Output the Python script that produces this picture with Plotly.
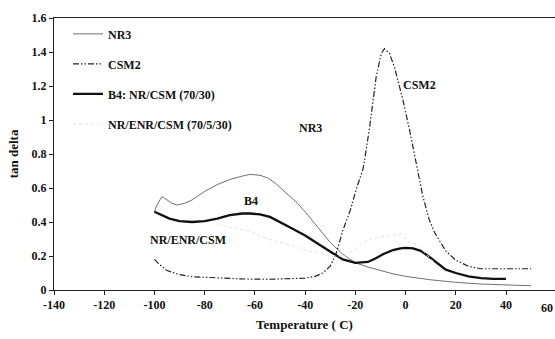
import plotly.graph_objects as go

# ---- data ----
nr3_T = [-100, -99, -97, -95, -93, -91, -88, -85, -80, -75, -70, -65, -62, -58, -55, -52, -49, -46, -43, -40, -35, -30, -25, -20, -15, -10, -5, 0, 5, 10, 20, 30, 40, 50]
nr3_y = [0.46, 0.50, 0.55, 0.53, 0.51, 0.50, 0.51, 0.53, 0.58, 0.62, 0.65, 0.67, 0.68, 0.675, 0.66, 0.63, 0.59, 0.55, 0.51, 0.46, 0.37, 0.28, 0.21, 0.16, 0.135, 0.115, 0.095, 0.08, 0.07, 0.06, 0.045, 0.035, 0.03, 0.025]

csm2_T = [-100, -98, -95, -90, -85, -75, -65, -55, -45, -40, -36, -33, -30, -27.5, -25, -22, -19.7, -17, -16.3, -14.3, -11.7, -9.7, -8.4, -6.4, -4.4, -1.1, 1.6, 4.2, 6.9, 9.5, 11.5, 13.5, 16, 20, 25, 30, 40, 50]
csm2_y = [0.18, 0.15, 0.115, 0.09, 0.078, 0.07, 0.065, 0.063, 0.065, 0.07, 0.08, 0.10, 0.14, 0.22, 0.35, 0.47, 0.59, 0.71, 0.765, 0.96, 1.255, 1.39, 1.42, 1.39, 1.31, 1.12, 0.94, 0.75, 0.55, 0.41, 0.34, 0.29, 0.23, 0.175, 0.14, 0.125, 0.125, 0.125]

b4_T = [-100, -97, -94, -90, -85, -80, -75, -70, -65, -62, -58, -54, -50, -45, -40, -35, -31, -25, -20, -15, -12, -9, -5, -2, 0, 3, 6, 9, 12, 16, 20, 25, 30, 35, 40]
b4_y = [0.46, 0.44, 0.42, 0.405, 0.40, 0.405, 0.42, 0.44, 0.45, 0.45, 0.445, 0.43, 0.40, 0.36, 0.32, 0.27, 0.235, 0.18, 0.16, 0.165, 0.185, 0.21, 0.235, 0.245, 0.248, 0.245, 0.23, 0.20, 0.165, 0.12, 0.10, 0.08, 0.07, 0.065, 0.065]

enr_T = [-75, -70, -65, -60, -55, -50, -45, -40, -35, -30, -25, -20, -17, -12, -6, -2, 1, 5, 9, 14, 18]
enr_y = [0.39, 0.37, 0.355, 0.335, 0.30, 0.28, 0.26, 0.235, 0.22, 0.20, 0.20, 0.24, 0.28, 0.31, 0.32, 0.33, 0.29, 0.26, 0.20, 0.12, 0.10]

x_ticks = [-140, -120, -100, -80, -60, -40, -20, 0, 20, 40]
x_tick_text = ["-140", "-120", "-100", "-80", "-60", "-40", "-20", "0", "20", "40"]
y_ticks = [0, 0.2, 0.4, 0.6, 0.8, 1, 1.2, 1.4, 1.6]
y_tick_text = ["0", "0.2", "0.4", "0.6", "0.8", "1", "1.2", "1.4", "1.6"]

FONT = "Liberation Serif"
INK = "#111111"

fig = go.Figure()
fig.add_trace(go.Scatter(x=nr3_T, y=nr3_y, mode="lines", name="<b>NR3</b>",
                         line=dict(color="#707070", width=1), legendgroup="a"))
fig.add_trace(go.Scatter(x=csm2_T, y=csm2_y, mode="lines", name="<b>CSM2</b>",
                         line=dict(color="#222222", width=1.2, dash="6px,2px,1.5px,2px,1.5px,2px"), legendgroup="b"))
fig.add_trace(go.Scatter(x=b4_T, y=b4_y, mode="lines", name="<b>B4: NR/CSM (70/30)</b>",
                         line=dict(color=INK, width=2.3), legendgroup="c"))
fig.add_trace(go.Scatter(x=enr_T, y=enr_y, mode="lines", name="<b>NR/ENR/CSM (70/5/30)</b>",
                         line=dict(color="#e2e2e2", width=1, dash="dot"), legendgroup="d"))

ann_font = dict(family=FONT, size=12, color=INK)
annotations = [
    dict(x=-37.8, y=0.953, text="<b>NR3</b>", showarrow=False, xref="x", yref="y", font=ann_font),
    dict(x=-1.8, y=1.206, text="<b>CSM2</b>", showarrow=False, xref="x", yref="y", font=ann_font, xanchor="left"),
    dict(x=-61.4, y=0.525, text="<b>B4</b>", showarrow=False, xref="x", yref="y", font=ann_font),
    dict(x=-86.6, y=0.294, text="<b>NR/ENR/CSM</b>", showarrow=False, xref="x", yref="y", font=ann_font),
    dict(x=1.0, y=0, text="<b>60</b>", showarrow=False, xref="paper", yref="paper",
         xanchor="right", yanchor="top", yshift=-9, font=ann_font),
]

fig.update_layout(
    width=555, height=339,
    margin=dict(l=54, r=0, t=18, b=49),
    paper_bgcolor="white", plot_bgcolor="white",
    font=dict(family=FONT, size=12, color=INK),
    showlegend=True,
    legend=dict(x=0.028, y=0.995, xanchor="left", yanchor="top", bgcolor="rgba(0,0,0,0)",
                font=dict(family=FONT, size=12, color=INK), tracegroupgap=11,
                itemwidth=30),
    annotations=annotations,
    xaxis=dict(range=[-140, 59.5], tickvals=x_ticks, ticktext=["<b>%s</b>" % t for t in x_tick_text],
               showgrid=False, zeroline=False,
               showline=True, linecolor="#222222", linewidth=1, mirror=True,
               ticks="outside", ticklen=4, tickcolor="#222222",
               tickfont=dict(family=FONT, size=12, color=INK),
               title=dict(text="<b>Temperature ( C)</b>", font=dict(family=FONT, size=13, color=INK), standoff=8)),
    yaxis=dict(range=[0, 1.6], tickvals=y_ticks, ticktext=["<b>%s</b>" % t for t in y_tick_text],
               showgrid=False, zeroline=False,
               showline=True, linecolor="#222222", linewidth=1,
               ticks="outside", ticklen=4, tickcolor="#222222",
               tickfont=dict(family=FONT, size=12, color=INK),
               title=dict(text="<b>tan delta</b>", font=dict(family=FONT, size=13, color=INK), standoff=10)),
)

fig.write_html("out.html")
